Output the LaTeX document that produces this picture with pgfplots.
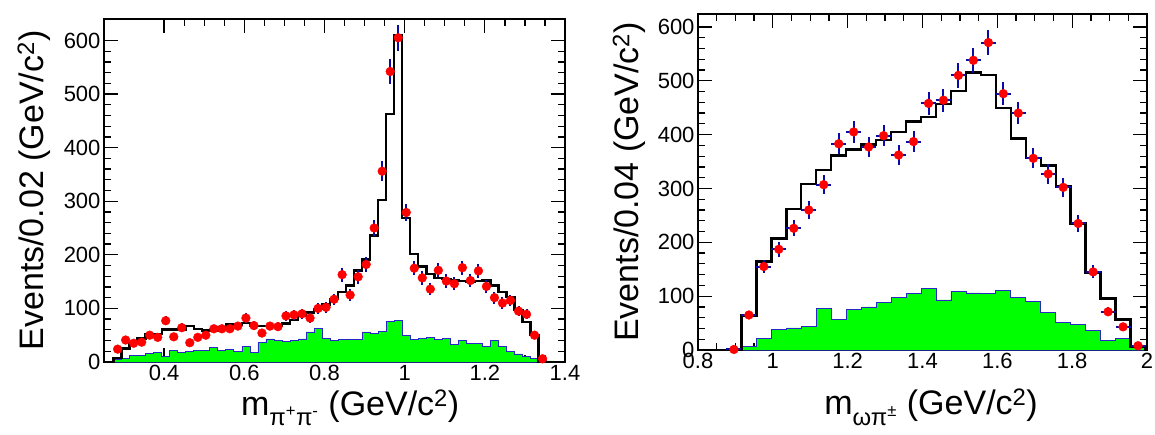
\documentclass[border=0pt]{standalone}
\usepackage{fontspec}
\setmainfont{Liberation Sans}
\usepackage{pgfplots}
\usepackage{pgfplotstable}
\pgfplotsset{compat=1.18}
\definecolor{rootgreen}{RGB}{0,255,0}
\definecolor{rootred}{RGB}{255,0,0}
\definecolor{errblue}{RGB}{10,10,170}
\definecolor{edgeblue}{RGB}{40,40,200}

% left panel: m(pi+ pi-), bins of 0.02
\pgfplotstableread{
x y e
0.284 24 4.9
0.304 41 6.4
0.324 35 5.9
0.344 37 6.1
0.364 50 7.1
0.384 46 6.8
0.404 77 8.8
0.424 47 6.9
0.444 64 8.0
0.464 36 6.0
0.484 46 6.8
0.504 50 7.1
0.524 62 7.9
0.544 62 7.9
0.564 62 7.9
0.584 67 8.2
0.604 82 9.1
0.624 68 8.2
0.644 54 7.3
0.664 67 8.2
0.684 66 8.1
0.704 86 9.3
0.724 88 9.4
0.744 90 9.5
0.764 82 9.1
0.784 100 10.0
0.804 102 10.1
0.824 117 10.8
0.844 163 12.8
0.864 125 11.2
0.884 159 12.6
0.904 182 13.5
0.924 250 15.8
0.944 356 18.9
0.964 542 23.3
0.984 605 24.6
1.004 279 16.7
1.024 175 13.2
1.044 157 12.5
1.064 136 11.7
1.084 171 13.1
1.104 151 12.3
1.124 146 12.1
1.144 176 13.3
1.164 152 12.3
1.184 170 13.0
1.204 141 11.9
1.224 120 11.0
1.244 110 10.5
1.264 115 10.7
1.284 95 9.7
1.304 89 9.4
1.324 50 7.1
1.344 6 2.4
}\leftdata

\pgfplotstableread{
x y
0.25 0
0.274 8
0.294 25
0.314 36
0.334 44
0.354 52
0.374 52
0.394 61
0.414 61
0.434 61
0.454 67
0.474 62
0.494 59
0.514 59
0.534 65
0.554 70
0.574 70
0.594 73
0.614 67
0.634 67
0.654 67
0.674 67
0.694 72
0.714 78
0.734 86
0.754 92
0.774 99
0.794 107
0.814 118
0.834 131
0.854 143
0.874 171
0.894 191
0.914 236
0.934 302
0.954 463
0.974 610
0.994 269
1.014 201
1.034 178
1.054 164
1.074 157
1.094 155
1.114 152
1.134 151
1.154 150
1.174 151
1.194 152
1.214 143
1.234 131
1.254 121
1.274 97
1.294 75
1.314 50
1.334 0
1.4 0
}\leftfit

\pgfplotstableread{
x y
0.25 0
0.274 4
0.294 7
0.314 13
0.334 13
0.354 16
0.374 18
0.394 10
0.414 21
0.434 17
0.454 20
0.474 21
0.494 21
0.514 27
0.534 21
0.554 24
0.574 20
0.594 29
0.614 17
0.634 36
0.654 43
0.674 41
0.694 38
0.714 41
0.734 43
0.754 56
0.774 62
0.794 44
0.814 41
0.834 42
0.854 42
0.874 42
0.894 56
0.914 53
0.934 57
0.954 75
0.974 78
0.994 50
1.014 42
1.034 44
1.054 46
1.074 42
1.094 44
1.114 32
1.134 40
1.154 35
1.174 34
1.194 29
1.214 41
1.234 29
1.254 19
1.274 15
1.294 10
1.314 7
1.334 4
1.354 2
1.374 1
1.394 0
1.4 0
}\leftbkg

% right panel: m(omega pi), bins of 0.04
\pgfplotstableread{
x y e
0.896 1 1.0
0.936 65 8.1
0.976 155 12.4
1.016 187 13.7
1.056 226 15.0
1.096 260 16.1
1.136 307 17.5
1.176 383 19.6
1.216 405 20.1
1.256 377 19.4
1.296 398 20.0
1.336 362 19.0
1.376 387 19.7
1.416 458 21.4
1.456 464 21.5
1.496 510 22.6
1.536 538 23.2
1.576 571 23.9
1.616 476 21.8
1.656 440 21.0
1.696 356 18.9
1.736 327 18.1
1.776 302 17.4
1.816 235 15.3
1.856 145 12.0
1.896 71 8.4
1.936 43 6.6
1.976 8 2.8
}\rightdata

\pgfplotstableread{
x y
0.8 0
0.876 0
0.916 64
0.956 164
0.996 207
1.036 262
1.076 308
1.116 334
1.156 361
1.196 372
1.236 382
1.276 390
1.316 405
1.356 424
1.396 433
1.436 457
1.476 481
1.516 515
1.556 511
1.596 449
1.636 393
1.676 357
1.716 343
1.756 304
1.796 235
1.836 144
1.876 96
1.916 57
1.956 6
1.996 0
2.0 0
}\rightfit

\pgfplotstableread{
x y
0.8 0
0.876 0
0.916 6
0.956 22
0.996 38
1.036 41
1.076 43
1.116 78
1.156 56
1.196 75
1.236 80
1.276 88
1.316 98
1.356 105
1.396 114
1.436 93
1.476 108
1.516 106
1.556 105
1.596 111
1.636 98
1.676 90
1.716 70
1.756 51
1.796 48
1.836 37
1.876 17
1.916 22
1.956 6
1.996 0
2.0 0
}\rightbkg

\pgfplotsset{rootstyle/.style={
  scale only axis, anchor=south west, ymin=0,
  tick align=inside, xtick pos=both, ytick pos=both,
  xticklabel pos=lower, yticklabel pos=left,
  major tick length=14pt, minor tick length=7pt,
  minor x tick num=3, minor y tick num=4,
  axis line style={line width=1.6pt},
  tick style={black, line width=1.3pt},
  tick label style={font=\fontsize{22}{26}\selectfont},
  /pgf/number format/assume math mode=true,
  ytick={0,100,...,600},
}}

\begin{document}
\begin{tikzpicture}
\path[use as bounding box] (0,0) rectangle (1155pt,434pt);

\begin{axis}[rootstyle,
  at={(104pt,72pt)}, width=461pt, height=343pt,
  xmin=0.25, xmax=1.4, ymax=640,
  xtick={0.4,0.6,...,1.4},
  every axis y label/.style={at={(axis description cs:-0.132,0.5)}, rotate=90, anchor=base, font=\fontsize{34}{40}\selectfont},
  every axis x label/.style={at={(axis description cs:0.534,-0.155)}, anchor=base, font=\fontsize{34}{40}\selectfont},
  ylabel={Events/0.02 (GeV/c\textsuperscript{2})},
  xlabel={m\textsubscript{π\textsuperscript{+}π\textsuperscript{-}} (GeV/c\textsuperscript{2})},
]
\addplot[const plot, fill=rootgreen, draw=edgeblue, line width=0.8pt] table {\leftbkg} \closedcycle;
\addplot[const plot, black, line width=2.4pt] table {\leftfit};
\addplot[only marks, mark=*, mark size=4.4pt, color=rootred,
  error bars/.cd, y dir=both, y explicit, error mark=none,
  error bar style={errblue, line width=2pt}]
  table[x=x, y=y, y error=e] {\leftdata};
\end{axis}

\begin{axis}[rootstyle,
  at={(698pt,84pt)}, width=449pt, height=336pt,
  xmin=0.8, xmax=2.0, ymax=624,
  xtick={0.8,1.0,...,2.0},
  every axis y label/.style={at={(axis description cs:-0.133,0.5)}, rotate=90, anchor=base, font=\fontsize{34}{40}\selectfont},
  every axis x label/.style={at={(axis description cs:0.519,-0.193)}, anchor=base, font=\fontsize{34}{40}\selectfont},
  ylabel={Events/0.04 (GeV/c\textsuperscript{2})},
  xlabel={m\textsubscript{ωπ\textsuperscript{±}} (GeV/c\textsuperscript{2})},
]
\addplot[const plot, fill=rootgreen, draw=edgeblue, line width=0.8pt] table {\rightbkg} \closedcycle;
\addplot[const plot, black, line width=2.4pt] table {\rightfit};
\addplot[only marks, mark=*, mark size=4.4pt, color=rootred,
  error bars/.cd, x dir=both, x fixed=0.02, y dir=both, y explicit, error mark=none,
  error bar style={errblue, line width=2pt}]
  table[x=x, y=y, y error=e] {\rightdata};
\end{axis}
\end{tikzpicture}
\end{document}
